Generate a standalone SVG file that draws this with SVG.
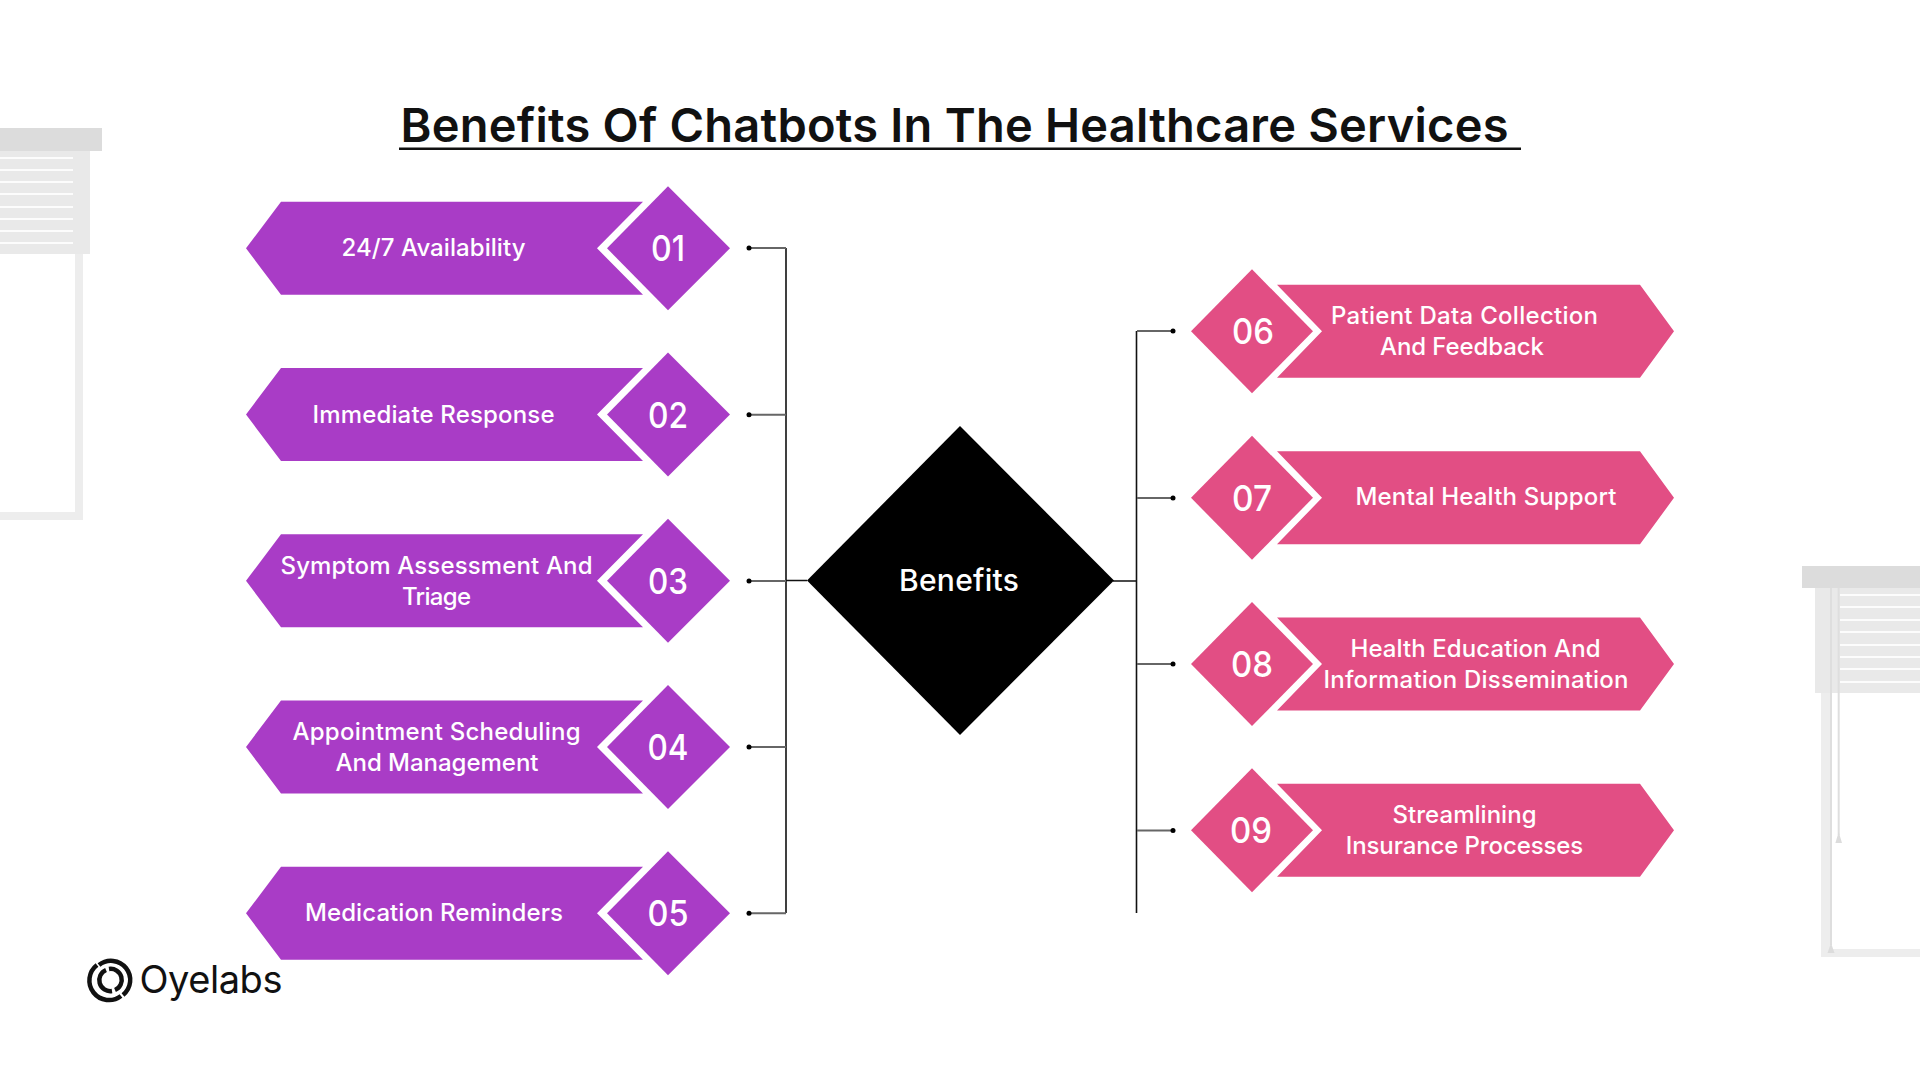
<svg xmlns="http://www.w3.org/2000/svg" width="1920" height="1080" viewBox="0 0 1920 1080">
<style>
text{font-family:"Inter","Noto Sans","Liberation Sans",sans-serif;text-anchor:middle}
.l{font-size:24px;font-weight:550;fill:#fff}
.n{font-size:36px;font-weight:500;fill:#fff}
.p{fill:#a93cc6}
.k{fill:#e24e84}
.stub{stroke:#666;stroke-width:2;fill:none}
.bus{stroke:#111;stroke-width:1.6;fill:none}
.pel{fill:#dcdcdc}
.sl{fill:#e9e9e9}
.gap{fill:#fff;opacity:.9}
.fr{fill:#ededed}
.cord{stroke:#dedede;stroke-width:2;fill:none}
</style>
<defs>
<g id="lb"><polygon points="281,-46.500 643,-46.500 597,0 643,46.500 281,46.500 246,0"/><polygon points="668,-62 730,0 668,62 607,0"/></g>
<g id="rb"><polygon points="1277,-46.500 1640,-46.500 1674,0 1640,46.500 1277,46.500 1322,0"/><polygon points="1252,-62 1313,0 1252,62 1191,0"/></g>
</defs>
<rect width="1920" height="1080" fill="#fff"/>
<g id="window-left">
<rect class="fr" x="75" y="254" width="8" height="266"/>
<rect class="fr" x="0" y="512" width="83" height="8"/>
<rect class="sl" x="0" y="151" width="90" height="103"/>
<g class="gap"><rect x="0" y="157" width="73" height="2"/><rect x="0" y="169" width="73" height="2"/><rect x="0" y="181" width="73" height="2"/><rect x="0" y="193" width="73" height="2"/><rect x="0" y="206" width="73" height="2"/><rect x="0" y="218" width="73" height="2"/><rect x="0" y="230" width="73" height="2"/><rect x="0" y="242" width="73" height="2"/></g>
<rect class="pel" x="0" y="128" width="102" height="23"/>
</g>
<g id="window-right">
<rect class="fr" x="1821" y="693" width="9" height="264"/>
<rect class="fr" x="1821" y="949" width="99" height="8"/>
<rect class="sl" x="1815" y="588" width="105" height="105"/>
<g class="gap"><rect x="1840" y="594" width="80" height="2"/><rect x="1840" y="606" width="80" height="2"/><rect x="1840" y="619" width="80" height="2"/><rect x="1840" y="631" width="80" height="2"/><rect x="1840" y="644" width="80" height="2"/><rect x="1840" y="656" width="80" height="2"/><rect x="1840" y="668" width="80" height="2"/><rect x="1840" y="681" width="80" height="2"/></g>
<path class="cord" d="M1831 588V945M1838.700 588V835"/>
<polygon points="1831,943 1834.500,953 1827.500,953" fill="#dcdcdc"/>
<polygon points="1838.700,832 1842,843 1835.400,843" fill="#dcdcdc"/>
<rect class="pel" x="1802" y="566" width="118" height="22"/>
</g>
<g id="title">
<text x="954.500" y="142" font-size="47" font-weight="600" fill="#111" textLength="1108">Benefits Of Chatbots In The Healthcare Services</text>
<rect x="399" y="147.500" width="1122" height="2.500" fill="#111"/>
</g>
<g id="connectors">
<path class="bus" d="M786 248V913M786 580.500H807M1113 581H1136.500M1136.500 331V913"/>
<path class="stub" d="M751 248H786M751 414.800H786M751 581H786M751 747H786M751 913.300H786"/>
<path class="stub" d="M1137 331H1173M1137 498H1173M1137 664H1173M1137 830.500H1173"/>
<g fill="#000"><circle cx="749" cy="248" r="2.500"/><circle cx="749" cy="414.800" r="2.500"/><circle cx="749" cy="581" r="2.500"/><circle cx="749" cy="747" r="2.500"/><circle cx="749" cy="913.300" r="2.500"/><circle cx="1173" cy="331" r="2.500"/><circle cx="1173" cy="498" r="2.500"/><circle cx="1173" cy="664" r="2.500"/><circle cx="1173" cy="830.500" r="2.500"/></g>
</g>
<g id="center"><polygon points="960,426 1114,580.500 960,735 807,580.500" fill="#000"/><text x="959" y="591" font-size="30" font-weight="550" fill="#fff" textLength="120">Benefits</text></g>
<g id="n01"><use href="#lb" class="p" y="248.300"/><text class="l" x="433.500" y="256" textLength="184">24/7 Availability</text><text class="n" x="668" y="261" textLength="34" lengthAdjust="spacingAndGlyphs">01</text></g>
<g id="n02"><use href="#lb" class="p" y="414.500"/><text class="l" x="433.500" y="423" textLength="242">Immediate Response</text><text class="n" x="668" y="427.500" textLength="40" lengthAdjust="spacingAndGlyphs">02</text></g>
<g id="n03"><use href="#lb" class="p" y="580.800"/><text class="l" x="436.500" y="574" textLength="312">Symptom Assessment And</text><text class="l" x="436.500" y="605" textLength="69">Triage</text><text class="n" x="668" y="593.500" textLength="40" lengthAdjust="spacingAndGlyphs">03</text></g>
<g id="n04"><use href="#lb" class="p" y="747"/><text class="l" x="436.500" y="740" textLength="288">Appointment Scheduling</text><text class="l" x="437" y="771" textLength="203">And Management</text><text class="n" x="668" y="759.500" textLength="41" lengthAdjust="spacingAndGlyphs">04</text></g>
<g id="n05"><use href="#lb" class="p" y="913.300"/><text class="l" x="434" y="921" textLength="258">Medication Reminders</text><text class="n" x="668" y="925.500" textLength="41" lengthAdjust="spacingAndGlyphs">05</text></g>
<g id="n06"><use href="#rb" class="k" y="331.300"/><text class="l" x="1464.500" y="324" textLength="267">Patient Data Collection</text><text class="l" x="1462" y="355" textLength="164">And Feedback</text><text class="n" x="1253" y="343.500" textLength="42" lengthAdjust="spacingAndGlyphs">06</text></g>
<g id="n07"><use href="#rb" class="k" y="497.800"/><text class="l" x="1486" y="505" textLength="261">Mental Health Support</text><text class="n" x="1252" y="510.500" textLength="40" lengthAdjust="spacingAndGlyphs">07</text></g>
<g id="n08"><use href="#rb" class="k" y="664"/><text class="l" x="1475.500" y="657" textLength="250">Health Education And</text><text class="l" x="1476" y="688" textLength="305">Information Dissemination</text><text class="n" x="1252" y="676.500" textLength="42" lengthAdjust="spacingAndGlyphs">08</text></g>
<g id="n09"><use href="#rb" class="k" y="830.300"/><text class="l" x="1464.500" y="823" textLength="144">Streamlining</text><text class="l" x="1464.500" y="854" textLength="237.500">Insurance Processes</text><text class="n" x="1251" y="842.500" textLength="42" lengthAdjust="spacingAndGlyphs">09</text></g>
<g id="logo">
<g fill="none" stroke="#111" stroke-width="4.500"><path d="M99 965A18 18 0 0 1 123 995"/><path d="M121 996A18 18 0 0 1 97 965"/><path d="M109 969A11 11 0 0 1 115 990"/><path d="M112 991A11 11 0 0 1 106 970"/></g>
<text x="211" y="993" font-size="38" fill="#111" font-weight="400" textLength="143">Oyelabs</text>
</g>
</svg>
